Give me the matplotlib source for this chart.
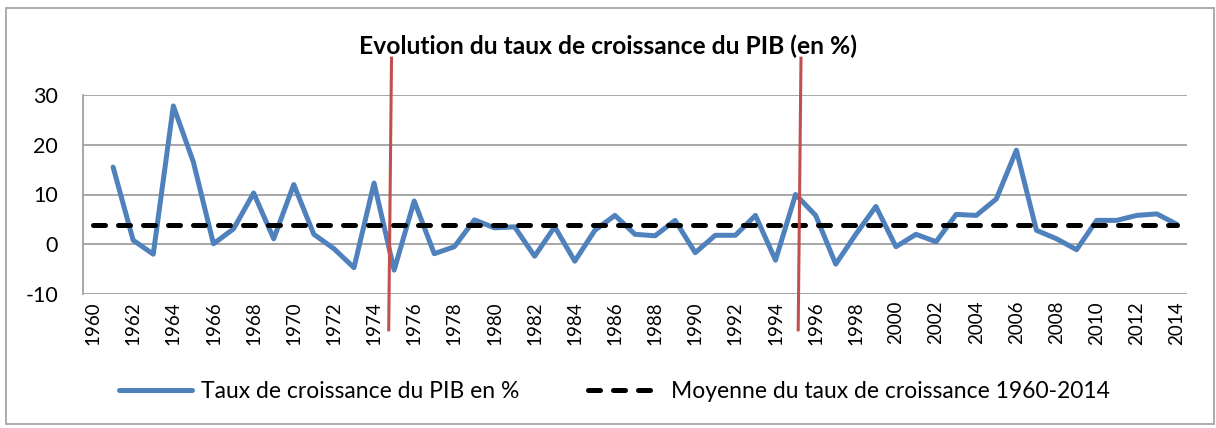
import matplotlib.pyplot as plt
from matplotlib.patches import Rectangle

# data
years = list(range(1961, 2015))
growth = [15.5, 0.8, -2.0, 27.8, 16.5, 0.1, 3.1, 10.3, 1.1, 12.0,
          2.0, -0.9, -4.7, 12.3, -5.2, 8.7, -1.9, -0.5, 4.9, 3.3,
          3.5, -2.4, 3.5, -3.4, 2.8, 5.8, 2.0, 1.7, 4.8, -1.7,
          1.8, 1.8, 5.8, -3.2, 10.0, 5.8, -4.0, 2.0, 7.6, -0.5,
          2.0, 0.5, 6.0, 5.8, 9.1, 18.9, 2.8, 1.1, -1.1, 4.8,
          4.8, 5.8, 6.1, 4.0]
mean_years = list(range(1960, 2015))
mean_value = [3.8] * len(mean_years)
break_years = [1974.8, 1995.2]
tick_years = list(range(1960, 2015, 2))
yticks = [-10, 0, 10, 20, 30]

plt.rcParams['font.family'] = ['Lato', 'DejaVu Sans']
plt.rcParams['axes.unicode_minus'] = False

fig = plt.figure(figsize=(12.16, 4.28), dpi=100)
ax = fig.add_axes([83 / 1216, 1 - 294 / 428, (1187 - 83) / 1216, (294 - 95) / 428])

ax.plot(years, growth, color='#4F81BD', lw=3.6, solid_joinstyle='round',
        solid_capstyle='round', label='Taux de croissance du PIB en %', zorder=3)
ax.plot(mean_years, mean_value, color='black', lw=3.6, dashes=[2.4, 2.6],
        dash_capstyle='round', label='Moyenne du taux de croissance 1960-2014', zorder=4)

# red vertical break markers, sticking out of the plot area
for bx in break_years:
    ax.plot([bx + 0.07, bx - 0.07], [37.4, -17.2], color='#C0504D', lw=2.2,
            clip_on=False, zorder=5)

ax.set_xlim(1959.5, 2014.5)
ax.set_ylim(-10, 30)
ax.set_yticks(yticks)
ax.set_xticks(tick_years)
ax.set_xticklabels([str(y) for y in tick_years], rotation=90, fontsize=13.5)
ax.tick_params(axis='y', labelsize=15.5, length=0, pad=18)
ax.tick_params(axis='x', length=0, pad=5)
ax.grid(axis='y', color='#A0A0A0', lw=1.3)
for side in ['top', 'right', 'bottom']:
    ax.spines[side].set_visible(False)
ax.spines['left'].set_color('#A0A0A0')
ax.spines['left'].set_linewidth(1.3)

fig.text(0.5, 1 - 46 / 428, 'Evolution du taux de croissance du PIB (en %)',
         ha='center', va='center', fontsize=17.7, fontweight='bold')

fig.legend(loc='center', bbox_to_anchor=(0.505, 1 - 392 / 428), ncol=2,
           frameon=False, fontsize=16.5, handlelength=3.2, columnspacing=3.0,
           handletextpad=0.4)

fig.add_artist(Rectangle((6 / 1216, 4 / 428), 1208 / 1216, 416 / 428,
                         transform=fig.transFigure, fill=False,
                         edgecolor='#A6A6A6', lw=1.3))

fig.savefig('out.png', dpi=100)
